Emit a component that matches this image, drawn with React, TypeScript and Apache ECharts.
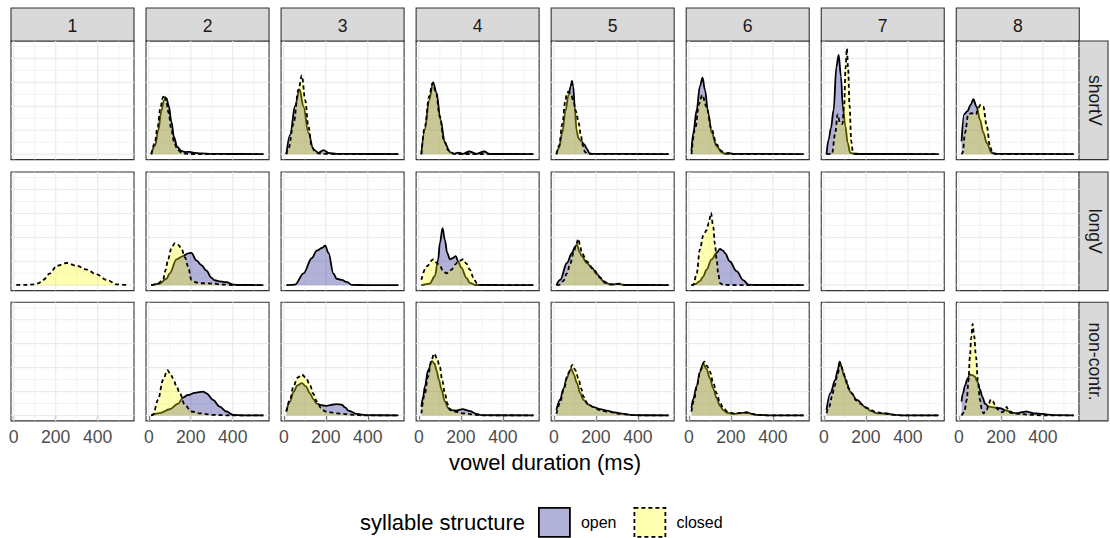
import React, { useEffect, useRef } from "react";
import * as echarts from "echarts";

type Pt = [number, number];

// ---------- categories & ticks ----------
const COLS = ["1", "2", "3", "4", "5", "6", "7", "8"];
const ROWS = ["shortV", "longV", "non-contr."];
const X_TICKS = [0, 200, 400];
const X_GRID_MAJOR = [0, 200, 400];
const X_GRID_MINOR = [100, 300, 500];
const Y_GRID_MAJOR = [0, 22.2, 44.4, 66.6, 88.8];
const Y_GRID_MINOR = [11.1, 33.3, 55.5, 77.7, 99.9];
const X_MIN = -13, X_MAX = 573, Y_MIN = -5, Y_MAX = 105;

// ---------- density curves (x = vowel duration ms, y = relative density) ----------
// shortV
const sv2Open: Pt[] = [[12,0],[30,8],[45,22],[60,40],[72,50],[84,52],[95,45],[108,30],[120,16],[135,7],[155,3],[175,2],[195,2.2],[215,1.2],[250,0.8],[300,0.4],[400,0.2],[546,0.1]];
const sv2Closed: Pt[] = [[12,0],[28,10],[42,25],[55,42],[66,52],[73,55],[82,50],[95,38],[108,22],[122,10],[138,4],[155,1.5],[175,0.5],[200,0.2],[300,0.1],[546,0.05]];
const sv3Open: Pt[] = [[12,0],[30,18],[54,45],[75,60],[94,44],[117,20],[141,4.3],[165,1.2],[189,3.7],[213,1.2],[252,0.3],[400,0.2],[546,0.1]];
const sv3Closed: Pt[] = [[12,0],[22,5],[46,28],[70,60],[86,73],[102,50],[117,26],[133,7],[149,2.8],[165,0.8],[190,0.3],[300,0.1],[546,0.05]];
const sv4Open: Pt[] = [[12,0],[29,23],[49,50],[68,66.5],[84,57],[103,32],[124,10.5],[148,1.8],[171,0.5],[187,1.5],[211,0.4],[240,2.5],[275,0.4],[311,2.5],[338,0.2],[546,0.1]];
const sv4Closed: Pt[] = [[12,0],[29,26],[49,53.6],[65,66],[81,58],[100,35],[119,13.5],[140,3.7],[163,0.5],[175,0.2],[546,0.05]];
const sv5Open: Pt[] = [[12,0],[25,6],[40,20],[55,40],[70,55],[80,63],[86,68],[92,63],[100,42],[108,22],[117,15],[130,12],[145,9],[157,5],[170,0.8],[185,0.3],[546,0.1]];
const sv5Closed: Pt[] = [[12,0],[25,8],[40,28],[55,50],[62,57],[70,58],[80,56],[92,50],[105,40],[117,30],[128,18],[138,8],[148,2],[160,0.3],[546,0.05]];
const sv6Open: Pt[] = [[12,3],[21,20],[37,41],[52,63],[65,71],[76,60],[92,38],[108,20],[132,7.4],[156,1.8],[172,0.5],[187,1.2],[210,0.3],[546,0.1]];
const sv6Closed: Pt[] = [[12,0],[29,23],[49,47],[63,55],[84,44],[108,23],[132,9],[156,2.8],[179,0.5],[220,0.1],[546,0.05]];
const sv7Open: Pt[] = [[12,0],[22,13.5],[33,24],[46,41],[59,81],[70,92],[81,72],[90,44],[102,26],[113,10.5],[125,1.2],[150,0.2],[546,0.1]];
const sv7Closed: Pt[] = [[12,0],[38,0.3],[54,20],[65,37],[75,30],[88,28],[96,45],[103,80],[109,98],[115,80],[122,45],[130,12],[137,3],[145,0.5],[200,0.1],[546,0.05]];
const sv8Open: Pt[] = [[12,12],[24,37],[40,40],[56,46],[68,51],[84,44],[100,32],[116,20],[132,10.5],[156,1.2],[180,0.3],[546,0.1]];
const sv8Closed: Pt[] = [[12,0],[17,1.2],[29,20],[44,37],[60,38],[81,37],[92,43],[103,46],[116,44],[132,26],[148,7.4],[160,0.6],[200,0.1],[546,0.05]];
// longV
const lv1Closed: Pt[] = [[12,0.3],[60,0.3],[100,0.8],[120,2],[141,5],[173,11],[205,18],[252,20.6],[300,18],[348,14.5],[395,10],[443,5],[490,0.8],[546,0.2]];
const lv2Open: Pt[] = [[12,0],[52,1.5],[84,6],[100,11],[132,24],[163,27],[187,29.5],[203,30],[227,23],[251,18.5],[275,13.5],[298,7],[314,4.6],[340,3.5],[370,2.8],[402,0.6],[450,0.2],[546,0.1]];
const lv2Closed: Pt[] = [[12,0],[40,1],[68,5],[80,14],[92,24],[108,34.5],[124,39],[140,37.5],[155,34.5],[172,26],[187,17.5],[203,5],[227,2.5],[260,1.8],[306,1.5],[350,0.6],[400,0.2],[546,0.05]];
const lv3Open: Pt[] = [[12,0],[54,0.6],[94,11],[133,25],[157,32],[181,34.5],[197,36.7],[213,30],[236,11],[252,6],[276,5],[300,3],[324,0.3],[400,0.1],[546,0.1]];
const lv4Open: Pt[] = [[12,0],[52,1.5],[76,8.3],[92,23.7],[100,39],[113,53],[124,42],[135,30],[148,24],[160,25],[176,27],[187,22],[203,16],[227,6.8],[243,2.2],[267,0.3],[400,0.1],[546,0.1]];
const lv4Closed: Pt[] = [[12,5],[37,17.5],[68,24],[84,21],[100,18],[116,13],[132,11],[146,13],[156,14.5],[172,19],[187,22],[211,24],[227,20],[243,14.5],[260,7],[275,2],[290,0.3],[400,0.1],[546,0.05]];
const lv5Open: Pt[] = [[12,0],[30,5],[62,20.6],[86,30],[102,36],[110,37.6],[122,31],[133,27],[157,20.6],[181,16],[205,10],[236,3.7],[268,0.6],[290,0.8],[308,1.5],[325,0.6],[340,0.2],[546,0.1]];
const lv5Closed: Pt[] = [[12,0],[30,0.5],[45,4],[62,11],[78,20],[94,30],[106,38],[117,43],[125,36],[133,30],[157,22],[189,14.5],[221,7],[244,2],[284,0.6],[300,1],[316,1.5],[340,0.2],[546,0.05]];
const lv6Open: Pt[] = [[12,0],[30,1],[52,3.7],[68,8],[84,14.5],[108,24],[132,30],[148,33.6],[163,32],[171,30],[195,22],[227,13],[259,4.6],[283,0.6],[320,0.2],[546,0.1]];
const lv6Closed: Pt[] = [[12,0],[21,0.3],[37,11],[52,33],[68,46],[84,51],[95,58],[105,67],[116,54],[124,38],[132,24],[140,10],[148,2],[163,0.3],[200,0.2],[260,0.1],[546,0.05]];
// non-contr.
const nc2Open: Pt[] = [[12,0],[52,2.2],[100,5.8],[140,11],[163,16.6],[187,19],[219,21],[259,22.2],[275,20.6],[306,14.5],[338,8.3],[370,3.7],[402,0.6],[450,0.2],[546,0.1]];
const nc2Closed: Pt[] = [[12,0],[21,1],[44,14.5],[68,33],[89,42],[102,39],[116,34.5],[132,27],[148,20.6],[171,10],[203,3.7],[243,2],[306,0.6],[386,0.1],[546,0.05]];
const nc3Open: Pt[] = [[12,3.7],[30,13],[46,22],[65,28],[86,30],[105,27],[125,20.6],[141,15],[157,11],[181,9.5],[205,9],[230,10],[252,10.5],[276,10],[292,7.5],[308,4.6],[348,1.5],[395,0.3],[546,0.1]];
const nc3Closed: Pt[] = [[12,3.7],[30,15],[46,27],[65,35],[86,38],[105,35],[125,28],[141,20],[157,13],[177,7],[197,3.7],[252,2],[332,0.6],[380,0.2],[546,0.05]];
const nc4Open: Pt[] = [[12,8],[20,17],[29,27],[44,42],[63,50.5],[75,48],[84,42],[96,33],[108,24],[124,13],[140,6.8],[160,4.8],[179,4.6],[195,5.5],[211,6],[227,5],[243,4],[275,1.5],[300,0.3],[546,0.1]];
const nc4Closed: Pt[] = [[12,2],[28,20],[44,36],[58,50],[73,57.6],[86,53],[100,45],[112,32],[124,20.6],[136,11],[148,5],[171,3.7],[211,2],[275,0.6],[306,0.2],[546,0.05]];
const nc5Open: Pt[] = [[12,5],[30,15],[46,25],[62,35],[78,42],[83,43.5],[95,38],[110,30],[125,21],[141,14.5],[165,10],[189,7.7],[220,6],[252,4.6],[290,2.8],[332,1.5],[380,0.3],[546,0.1]];
const nc5Closed: Pt[] = [[12,1.5],[30,12],[46,24],[68,39],[89,47],[102,42],[117,34.5],[130,25],[141,17.5],[160,11],[189,7.7],[220,5],[252,3.7],[316,1.5],[380,0.3],[410,0.1],[546,0.05]];
const nc6Open: Pt[] = [[12,7],[20,15],[37,27],[52,40],[68,48],[84,43],[100,34.5],[116,25],[132,16],[148,9],[163,5],[185,2.5],[211,1.5],[245,2.2],[275,2.8],[300,1.5],[322,0.6],[400,0.2],[546,0.1]];
const nc6Closed: Pt[] = [[12,3.7],[25,15],[37,27],[55,42],[73,50],[86,46],[100,40.6],[116,30],[132,20.6],[148,12],[163,6.8],[185,3.5],[211,2],[245,2.2],[275,2.8],[300,1.5],[322,0.6],[370,0.1],[546,0.05]];
const nc7Open: Pt[] = [[12,5],[30,20.6],[54,33],[65,42],[75,50],[84,45],[94,37.6],[110,29],[125,22],[157,14.5],[197,7.7],[225,4],[252,2],[280,1.8],[300,2],[330,0.6],[380,0.2],[546,0.1]];
const nc7Closed: Pt[] = [[12,2],[25,8],[38,17.5],[50,27],[62,36],[78,48.4],[90,42],[102,34.5],[118,25],[133,20.6],[153,14],[173,11],[205,6.8],[252,2.8],[300,1.5],[340,0.6],[380,0.1],[546,0.05]];
const nc8Open: Pt[] = [[12,13],[18,20],[29,28],[40,34],[52,38],[64,37.5],[76,36],[88,31],[100,24],[112,17],[124,11],[140,8.5],[156,7.7],[175,7.2],[195,6.8],[220,5],[243,3.7],[260,2.5],[275,2],[298,3],[322,3.7],[340,2.8],[354,2],[380,1.7],[402,1.5],[425,0.8],[449,0.3],[546,0.1]];
const nc8Closed: Pt[] = [[12,0],[25,3],[37,14.5],[45,32],[52,54.5],[58,72],[65,85],[72,74],[81,54.5],[90,32],[100,14.5],[108,6],[116,2],[124,3],[132,5],[142,11],[152,15],[162,13],[171,10],[183,6],[195,3.7],[207,3],[219,5],[227,8],[235,5],[243,2.8],[260,2],[290,1.5],[338,0.6],[402,0.2],[546,0.05]];

const CURVES: Record<string, { open?: Pt[]; closed?: Pt[] }> = {
  "shortV|2": { open: sv2Open, closed: sv2Closed },
  "shortV|3": { open: sv3Open, closed: sv3Closed },
  "shortV|4": { open: sv4Open, closed: sv4Closed },
  "shortV|5": { open: sv5Open, closed: sv5Closed },
  "shortV|6": { open: sv6Open, closed: sv6Closed },
  "shortV|7": { open: sv7Open, closed: sv7Closed },
  "shortV|8": { open: sv8Open, closed: sv8Closed },
  "longV|1": { closed: lv1Closed },
  "longV|2": { open: lv2Open, closed: lv2Closed },
  "longV|3": { open: lv3Open },
  "longV|4": { open: lv4Open, closed: lv4Closed },
  "longV|5": { open: lv5Open, closed: lv5Closed },
  "longV|6": { open: lv6Open, closed: lv6Closed },
  "non-contr.|2": { open: nc2Open, closed: nc2Closed },
  "non-contr.|3": { open: nc3Open, closed: nc3Closed },
  "non-contr.|4": { open: nc4Open, closed: nc4Closed },
  "non-contr.|5": { open: nc5Open, closed: nc5Closed },
  "non-contr.|6": { open: nc6Open, closed: nc6Closed },
  "non-contr.|7": { open: nc7Open, closed: nc7Closed },
  "non-contr.|8": { open: nc8Open, closed: nc8Closed },
};

// ---------- layout / style ----------
const FONT = "Liberation Sans, Arial, Helvetica, sans-serif";
const PANEL_LEFT = 11, PITCH_X = 135.04, PANEL_W = 123;
const ROW_TOP = [41, 172, 302.3];
const PANEL_H = 118.6;
const STRIP_TOP = 8, STRIP_H = 33;
const RSTRIP_X = 1079, RSTRIP_W = 29;

export default function App() {
  const ref = useRef<HTMLDivElement>(null);

  useEffect(() => {
    document.body.style.margin = "0";
    if (!ref.current) return;
    const chart = echarts.init(ref.current, undefined, { renderer: "svg" });

    const grids: any[] = [];
    const xAxes: any[] = [];
    const yAxes: any[] = [];
    const series: any[] = [];

    const gridData: number[][] = [
      ...X_GRID_MAJOR.map((v) => [0, v, 1]),
      ...X_GRID_MINOR.map((v) => [0, v, 0]),
      ...Y_GRID_MAJOR.map((v) => [1, v, 1]),
      ...Y_GRID_MINOR.map((v) => [1, v, 0]),
    ];

    ROWS.forEach((row, r) => {
      COLS.forEach((col, c) => {
        const i = r * COLS.length + c;
        const bottom = r === ROWS.length - 1;
        grids.push({
          left: PANEL_LEFT + PITCH_X * c,
          top: ROW_TOP[r],
          width: PANEL_W,
          height: PANEL_H,
          show: true,
          backgroundColor: "#ffffff",
          borderColor: "#333333",
          borderWidth: 1.1,
        });
        xAxes.push({
          type: "value",
          gridIndex: i,
          min: X_MIN,
          max: X_MAX,
          axisLine: { show: false },
          splitLine: { show: false },
          axisTick: {
            show: bottom,
            customValues: X_TICKS,
            length: 5,
            lineStyle: { color: "#333333", width: 1.2 },
          },
          axisLabel: {
            show: bottom,
            customValues: X_TICKS,
            fontSize: 17.6,
            color: "#4d4d4d",
            fontFamily: FONT,
            margin: 7,
          },
        });
        yAxes.push({ type: "value", gridIndex: i, min: Y_MIN, max: Y_MAX, show: false });

        series.push({
          type: "custom",
          name: "gridlines",
          xAxisIndex: i,
          yAxisIndex: i,
          silent: true,
          z: 1,
          data: gridData,
          renderItem: (params: any, api: any) => {
            const kind = api.value(0);
            const v = api.value(1);
            const major = api.value(2) === 1;
            const cs = params.coordSys;
            const style = { stroke: "#ebebeb", lineWidth: major ? 1.2 : 0.6 };
            if (kind === 0) {
              const x = api.coord([v, 0])[0];
              return { type: "line", shape: { x1: x, y1: cs.y, x2: x, y2: cs.y + cs.height }, style };
            }
            const y = api.coord([0, v])[1];
            return { type: "line", shape: { x1: cs.x, y1: y, x2: cs.x + cs.width, y2: y }, style };
          },
        });

        const cur = CURVES[`${row}|${col}`];
        if (cur && cur.open) {
          series.push({
            type: "line",
            name: "open",
            xAxisIndex: i,
            yAxisIndex: i,
            data: cur.open,
            smooth: 0.35,
            smoothMonotone: "x",
            symbol: "none",
            silent: true,
            z: 2,
            itemStyle: { color: "#b2b2d9" },
            lineStyle: { color: "#000000", width: 1.8 },
            areaStyle: { color: "#000080", opacity: 0.3 },
          });
        }
        if (cur && cur.closed) {
          series.push({
            type: "line",
            name: "closed",
            xAxisIndex: i,
            yAxisIndex: i,
            data: cur.closed,
            smooth: 0.35,
            smoothMonotone: "x",
            symbol: "none",
            silent: true,
            z: 3,
            itemStyle: { color: "#ffffb2" },
            lineStyle: { color: "#000000", width: 1.8, type: [4, 3] },
            areaStyle: { color: "#ffff00", opacity: 0.3 },
          });
        }
      });
    });

    const graphic: any[] = [];
    COLS.forEach((col, c) => {
      const x = PANEL_LEFT + PITCH_X * c;
      graphic.push({
        type: "rect",
        shape: { x, y: STRIP_TOP, width: PANEL_W, height: STRIP_H },
        style: { fill: "#d9d9d9", stroke: "#333333", lineWidth: 1.1 },
        silent: true,
      });
      graphic.push({
        type: "text",
        x: x + PANEL_W / 2,
        y: STRIP_TOP + STRIP_H / 2 + 1,
        style: { text: col, fontSize: 17.6, fontFamily: FONT, fill: "#1a1a1a", align: "center", verticalAlign: "middle" },
        silent: true,
      });
    });
    ROWS.forEach((row, r) => {
      graphic.push({
        type: "rect",
        shape: { x: RSTRIP_X, y: ROW_TOP[r], width: RSTRIP_W, height: PANEL_H },
        style: { fill: "#d9d9d9", stroke: "#333333", lineWidth: 1.1 },
        silent: true,
      });
      graphic.push({
        type: "text",
        x: RSTRIP_X + RSTRIP_W / 2 + 1,
        y: ROW_TOP[r] + PANEL_H / 2,
        rotation: -Math.PI / 2,
        style: { text: row, fontSize: 17.6, fontFamily: FONT, fill: "#1a1a1a", align: "center", verticalAlign: "middle" },
        silent: true,
      });
    });
    graphic.push({
      type: "text",
      x: 545,
      y: 462,
      style: { text: "vowel duration (ms)", fontSize: 22, fontFamily: FONT, fill: "#000000", align: "center", verticalAlign: "middle" },
      silent: true,
    });
    graphic.push({
      type: "text",
      x: 360,
      y: 522,
      style: { text: "syllable structure", fontSize: 22, fontFamily: FONT, fill: "#000000", align: "left", verticalAlign: "middle" },
      silent: true,
    });

    chart.setOption({
      animation: false,
      textStyle: { fontFamily: FONT },
      grid: grids,
      xAxis: xAxes,
      yAxis: yAxes,
      series,
      graphic,
      legend: {
        left: 538,
        top: 507,
        padding: 0,
        orient: "horizontal",
        itemWidth: 31,
        itemHeight: 29,
        itemGap: 17,
        selectedMode: false,
        textStyle: { fontSize: 16, color: "#000000", fontFamily: FONT, padding: [0, 0, 0, 6] },
        data: [
          { name: "open", icon: "rect", itemStyle: { color: "#b2b2d9", borderColor: "#000000", borderWidth: 1.8, borderType: "solid" } },
          { name: "closed", icon: "rect", itemStyle: { color: "#ffffb2", borderColor: "#000000", borderWidth: 1.8, borderType: [4, 3] } },
        ],
      },
    });

    return () => chart.dispose();
  }, []);

  return <div ref={ref} style={{ width: 1110, height: 538 }} />;
}
